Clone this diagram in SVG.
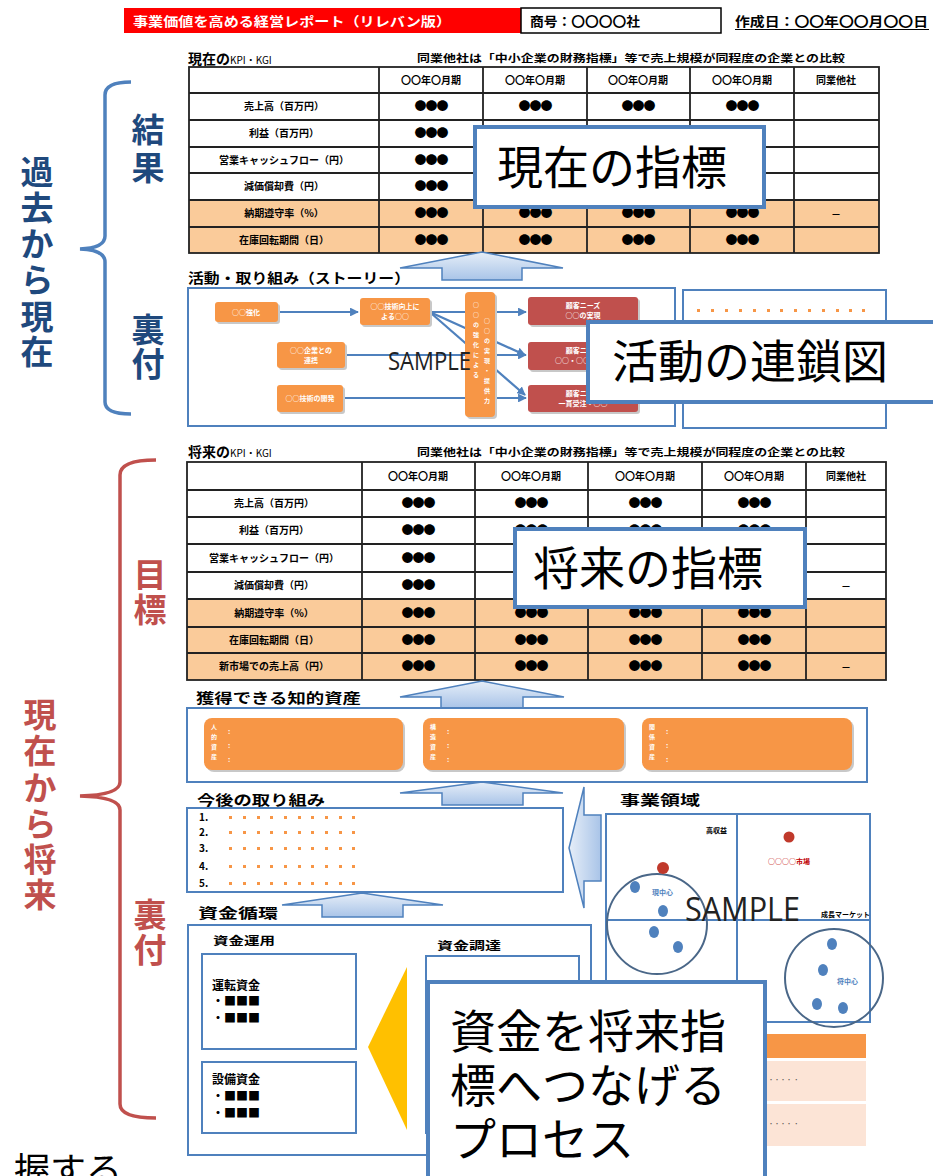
<svg xmlns="http://www.w3.org/2000/svg" width="933" height="1176" viewBox="0 0 933 1176">
<defs>
<style>
text{font-family:"Noto Sans CJK JP","Noto Sans",sans-serif}
.lbl{font-size:14px;font-weight:bold;fill:#000}
.kpi{font-size:10px;fill:#000}
.tl{font-size:10px;font-weight:bold;text-anchor:middle;fill:#000}
.dt{font-size:12px;font-weight:bold;text-anchor:middle;fill:#000;letter-spacing:-1px}
.grid{stroke:#222;stroke-width:1.8;fill:none}
.org{fill:#FACB9A}
.ovr{fill:#fff;stroke:#4F81BD;stroke-width:4}
.ovt{font-size:46px;fill:#000}
.frame{fill:#fff;stroke:#4F81BD;stroke-width:2}
.ob{fill:#F79646}
.rb{fill:#C0504D}
.sh{fill:#C8C8C8}
.wt{fill:#fff;font-size:7px;font-weight:bold;text-anchor:middle}
.vt{fill:#fff;font-size:6px;font-weight:bold;writing-mode:vertical-rl;letter-spacing:4px}
.col{fill:#fff;font-size:7px;font-weight:bold}
.conn{stroke:#4F81BD;stroke-width:2.2;fill:none}
.uarr{fill:url(#ag);stroke:#4F81BD;stroke-width:1.5}
.vb{font-size:33px;font-weight:bold;fill:#1F497D;text-anchor:middle}
.vr{font-size:33px;font-weight:bold;fill:#C0504D;text-anchor:middle}
.od{fill:#F79646}
.bd{fill:#4F81BD}
.samp{font-family:"Open Sans","Liberation Sans",sans-serif;fill:#222}
</style>
<linearGradient id="ag" x1="0" y1="0" x2="0" y2="1"><stop offset="0" stop-color="#E6EEF8"/><stop offset="1" stop-color="#A9C4E8"/></linearGradient>
<linearGradient id="agh" x1="0" y1="0" x2="1" y2="0"><stop offset="0" stop-color="#E6EEF8"/><stop offset="1" stop-color="#A9C4E8"/></linearGradient>
<marker id="ah" viewBox="0 0 10 10" refX="9" refY="5" markerWidth="4" markerHeight="4" orient="auto"><path d="M0,0 L10,5 L0,10 z" fill="#4F81BD"/></marker>
<marker id="ahr" viewBox="0 0 10 10" refX="9" refY="5" markerWidth="4" markerHeight="4" orient="auto"><path d="M0,0 L10,5 L0,10 z" fill="#C00000"/></marker>
</defs>
<rect width="933" height="1176" fill="#fff"/>

<!-- header -->
<g id="header">
<rect x="124" y="8" width="397" height="25" fill="#FF0000"/>
<text x="133" y="26" fill="#fff" font-size="13" font-weight="bold" textLength="318" lengthAdjust="spacingAndGlyphs">事業価値を高める経営レポート（リレバン版）</text>
<rect x="521" y="8" width="200" height="25" fill="#fff" stroke="#000" stroke-width="1.5"/>
<text x="530" y="26" font-size="13" font-weight="bold" textLength="110" lengthAdjust="spacingAndGlyphs">商号：〇〇〇〇社</text>
<text x="735" y="26" font-size="13" font-weight="bold" textLength="193" lengthAdjust="spacingAndGlyphs">作成日：〇〇年〇〇月〇〇日</text>
<line x1="735" y1="29.5" x2="929" y2="29.5" stroke="#000" stroke-width="1.2"/>
</g>

<!-- left brackets and labels -->
<g id="bracket-past">
<path d="M131,82 Q105,82 105,95 L105,236 Q105,248 80,249 Q105,250 105,262 L105,402 Q105,414 131,414" fill="none" stroke="#4F81BD" stroke-width="3.5"/>
<text class="vb" x="37" y="184">過</text><text class="vb" x="37" y="220">去</text><text class="vb" x="37" y="256">か</text><text class="vb" x="37" y="292">ら</text><text class="vb" x="37" y="329">現</text><text class="vb" x="37" y="364">在</text>
<text class="vb" x="148" y="142">結</text><text class="vb" x="148" y="180">果</text>
<text class="vb" x="148" y="342">裏</text><text class="vb" x="148" y="376">付</text>
</g>
<g id="bracket-future">
<path d="M156,460 Q120,460 120,475 L120,782 Q120,795 80,796 Q120,797 120,810 L120,1104 Q120,1118 156,1118" fill="none" stroke="#C0504D" stroke-width="3.5"/>
<text class="vr" x="40" y="727">現</text><text class="vr" x="40" y="763">在</text><text class="vr" x="40" y="800">か</text><text class="vr" x="40" y="836">ら</text><text class="vr" x="40" y="872">将</text><text class="vr" x="40" y="907">来</text>
<text class="vr" x="150" y="587">目</text><text class="vr" x="150" y="622">標</text>
<text class="vr" x="150" y="927">裏</text><text class="vr" x="150" y="962">付</text>
</g>
<text x="14" y="1184" font-size="36" fill="#000">握する</text>

<!-- current KPI table -->
<g id="table-current">
<text x="188" y="64" class="lbl">現在の<tspan class="kpi" font-weight="normal">KPI・KGI</tspan></text>
<text x="417" y="62" font-size="10" font-weight="bold" textLength="428" lengthAdjust="spacingAndGlyphs">同業他社は「中小企業の財務指標」等で売上規模が同程度の企業との比較</text>
<rect x="189" y="200" width="690" height="53" class="org"/>
<rect x="189" y="67" width="690" height="186" class="grid"/>
<path class="grid" d="M189,93H879M189,120H879M189,147H879M189,173H879M189,200H879M189,227H879M379,67V253M483,67V253M587,67V253M690,67V253M794,67V253"/>
<text class="tl" x="431" y="84">〇〇年〇月期</text><text class="tl" x="535" y="84">〇〇年〇月期</text><text class="tl" x="638" y="84">〇〇年〇月期</text><text class="tl" x="742" y="84">〇〇年〇月期</text><text class="tl" x="836" y="84">同業他社</text>
<text class="tl" x="284" y="110">売上高（百万円）</text>
<text class="tl" x="284" y="137">利益（百万円）</text>
<text class="tl" x="284" y="164">営業キャッシュフロー（円）</text>
<text class="tl" x="284" y="190">減価償却費（円）</text>
<text class="tl" x="284" y="217">納期遵守率（%）</text>
<text class="tl" x="284" y="244">在庫回転期間（日）</text>
<g class="dt">
<text x="431" y="111">●●●</text><text x="535" y="111">●●●</text><text x="638" y="111">●●●</text><text x="742" y="111">●●●</text>
<text x="431" y="138">●●●</text>
<text x="431" y="165">●●●</text>
<text x="431" y="191">●●●</text>
<text x="431" y="218">●●●</text><text x="535" y="218">●●●</text><text x="638" y="218">●●●</text><text x="742" y="218">●●●</text>
<text x="431" y="245">●●●</text><text x="535" y="245">●●●</text><text x="638" y="245">●●●</text><text x="742" y="245">●●●</text>
</g>
<text class="tl" x="836" y="218">－</text>
</g>

<!-- activity chain -->
<g id="activity-frame">
<text x="188" y="283" class="lbl" textLength="222" lengthAdjust="spacingAndGlyphs">活動・取り組み（ストーリー）</text>
<rect x="188" y="288" width="487" height="138" class="frame"/>
<rect x="683" y="290" width="203" height="138" class="frame"/>
<g class="od"><rect x="697" y="309" width="3" height="3"/><rect x="711" y="309" width="3" height="3"/><rect x="725" y="309" width="3" height="3"/><rect x="739" y="309" width="3" height="3"/><rect x="753" y="309" width="3" height="3"/><rect x="767" y="309" width="3" height="3"/><rect x="780" y="309" width="3" height="3"/><rect x="794" y="309" width="3" height="3"/><rect x="808" y="309" width="3" height="3"/><rect x="822" y="309" width="3" height="3"/><rect x="836" y="309" width="3" height="3"/><rect x="849" y="309" width="3" height="3"/><rect x="862" y="309" width="3" height="3"/></g>
</g>

<g id="connectors">
<path class="conn" marker-end="url(#ah)" d="M278,312 H358"/>
<path class="conn" marker-end="url(#ah)" d="M430,312 H526"/>
<path class="conn" marker-end="url(#ah)" d="M432,313 L525,355"/>
<path class="conn" marker-end="url(#ah)" d="M432,314 L525,395"/>
<path class="conn" marker-end="url(#ah)" d="M345,355 H526"/>
<path class="conn" marker-end="url(#ah)" d="M343,398 H526"/>
<path d="M663,868 L780,839" stroke="#C00000" stroke-width="2" fill="none" marker-end="url(#ahr)"/>
</g>

<g id="act-a"><rect x="217" y="304" width="63" height="20" rx="3" class="sh"/><rect x="215" y="302" width="63" height="20" rx="3" class="ob"/><text class="wt" x="246" y="315">○○強化</text></g>
<g id="act-b"><rect x="362" y="300" width="70" height="27" rx="3" class="sh"/><rect x="360" y="298" width="70" height="27" rx="3" class="ob"/><text class="wt" x="395" y="309">○○技術向上に</text><text class="wt" x="395" y="319">よる○○</text></g>
<g id="act-c"><rect x="279" y="344" width="68" height="26" rx="3" class="sh"/><rect x="277" y="342" width="68" height="26" rx="3" class="ob"/><text class="wt" x="311" y="353">○○企業との</text><text class="wt" x="311" y="363">連携</text></g>
<g id="act-d"><rect x="279" y="387" width="66" height="27" rx="3" class="sh"/><rect x="277" y="385" width="66" height="27" rx="3" class="ob"/><text class="wt" x="310" y="401">○○技術の開発</text></g>
<g id="act-e"><rect x="467" y="294" width="30" height="125" rx="4" class="sh"/><rect x="465" y="292" width="30" height="125" rx="4" class="ob"/>
<text class="vt" x="487" y="318">○○の実現・提供力</text>
<text class="vt" x="476" y="302">○○の強化による</text></g>
<g id="act-f"><rect x="530" y="299" width="110" height="28" rx="3" class="sh"/><rect x="528" y="297" width="110" height="28" rx="3" class="rb"/><text class="wt" x="583" y="308">顧客ニーズ</text><text class="wt" x="583" y="318">○○の実現</text></g>
<g id="act-g"><rect x="530" y="344" width="110" height="28" rx="3" class="sh"/><rect x="528" y="342" width="110" height="28" rx="3" class="rb"/><text class="wt" x="583" y="353">顧客ニーズ</text><text class="wt" x="583" y="363">○○・○○の○○</text></g>
<g id="act-h"><rect x="530" y="387" width="110" height="27" rx="3" class="sh"/><rect x="528" y="385" width="110" height="27" rx="3" class="rb"/><text class="wt" x="583" y="396">顧客ニーズ</text><text class="wt" x="583" y="406">一貫受注・○○</text></g>
<text class="samp" x="388" y="370" font-size="26" textLength="83" lengthAdjust="spacingAndGlyphs">SAMPLE</text>

<!-- arrows -->
<g id="arrow-1"><path class="uarr" d="M482,252 L563,268 L522,268 L522,280 L442,280 L442,268 L400,268 Z"/></g>

<!-- future KPI table -->
<g id="table-future">
<text x="188" y="457" class="lbl">将来の<tspan class="kpi" font-weight="normal">KPI・KGI</tspan></text>
<text x="417" y="456" font-size="10" font-weight="bold" textLength="428" lengthAdjust="spacingAndGlyphs">同業他社は「中小企業の財務指標」等で売上規模が同程度の企業との比較</text>
<rect x="187" y="599" width="699" height="81" class="org"/>
<rect x="187" y="462" width="699" height="218" class="grid"/>
<path class="grid" d="M187,490H886M187,517H886M187,544H886M187,572H886M187,599H886M187,627H886M187,653H886M362,462V680M475,462V680M588,462V680M702,462V680M806,462V680"/>
<text class="tl" x="418" y="480">〇〇年〇月期</text><text class="tl" x="531" y="480">〇〇年〇月期</text><text class="tl" x="645" y="480">〇〇年〇月期</text><text class="tl" x="754" y="480">〇〇年〇月期</text><text class="tl" x="846" y="480">同業他社</text>
<text class="tl" x="274" y="507">売上高（百万円）</text>
<text class="tl" x="274" y="534">利益（百万円）</text>
<text class="tl" x="274" y="562">営業キャッシュフロー（円）</text>
<text class="tl" x="274" y="589">減価償却費（円）</text>
<text class="tl" x="274" y="617">納期遵守率（%）</text>
<text class="tl" x="274" y="644">在庫回転期間（日）</text>
<text class="tl" x="274" y="670">新市場での売上高（円）</text>
<g class="dt">
<text x="418" y="508">●●●</text><text x="531" y="508">●●●</text><text x="645" y="508">●●●</text><text x="754" y="508">●●●</text>
<text x="418" y="535">●●●</text><text x="531" y="535">●●●</text><text x="645" y="535">●●●</text><text x="754" y="535">●●●</text>
<text x="418" y="563">●●●</text><text x="531" y="563">●●●</text>
<text x="418" y="590">●●●</text><text x="531" y="590">●●●</text>
<text x="418" y="618">●●●</text><text x="531" y="618">●●●</text><text x="645" y="618">●●●</text><text x="754" y="618">●●●</text>
<text x="418" y="645">●●●</text><text x="531" y="645">●●●</text><text x="645" y="645">●●●</text><text x="754" y="645">●●●</text>
<text x="418" y="671">●●●</text><text x="531" y="671">●●●</text><text x="645" y="671">●●●</text><text x="754" y="671">●●●</text>
</g>
<text class="tl" x="846" y="590">－</text><text class="tl" x="846" y="671">－</text>
</g>

<g id="arrow-2"><path class="uarr" d="M482,681 L564,697 L523,697 L523,708 L441,708 L441,697 L400,697 Z"/></g>

<!-- knowledge assets -->
<g id="knowledge">
<text x="196" y="703" class="lbl" textLength="165" lengthAdjust="spacingAndGlyphs">獲得できる知的資産</text>
<rect x="187" y="708" width="680" height="74" class="frame"/>
<rect x="206" y="720" width="199" height="52" rx="8" class="sh"/><rect x="204" y="718" width="199" height="52" rx="8" class="ob"/>
<rect x="425" y="720" width="201" height="52" rx="8" class="sh"/><rect x="423" y="718" width="201" height="52" rx="8" class="ob"/>
<rect x="644" y="720" width="210" height="52" rx="8" class="sh"/><rect x="642" y="718" width="210" height="52" rx="8" class="ob"/>
<text class="vt" x="214" y="724">人的資産</text>
<text class="vt" x="433" y="724">構造資産</text>
<text class="vt" x="652" y="724">関係資産</text>
<text class="col" x="228" y="734">:</text><text class="col" x="228" y="748">:</text><text class="col" x="228" y="762">:</text>
<text class="col" x="447" y="734">:</text><text class="col" x="447" y="748">:</text><text class="col" x="447" y="762">:</text>
<text class="col" x="666" y="734">:</text><text class="col" x="666" y="748">:</text><text class="col" x="666" y="762">:</text>
</g>

<g id="arrow-3"><path class="uarr" d="M482,782 L563,793 L523,793 L523,805 L442,805 L442,793 L400,793 Z"/></g>

<!-- future efforts -->
<g id="future-efforts">
<text x="197" y="805" class="lbl" textLength="128" lengthAdjust="spacingAndGlyphs">今後の取り組み</text>
<rect x="187" y="808" width="376" height="84" class="frame"/>
<g font-size="10" font-weight="bold"><text x="199" y="821">1.</text><text x="199" y="836">2.</text><text x="199" y="852">3.</text><text x="199" y="870">4.</text><text x="199" y="887">5.</text></g>
<g class="od">
<rect x="229" y="816" width="3" height="3"/><rect x="243" y="816" width="3" height="3"/><rect x="257" y="816" width="3" height="3"/><rect x="270" y="816" width="3" height="3"/><rect x="284" y="816" width="3" height="3"/><rect x="298" y="816" width="3" height="3"/><rect x="311" y="816" width="3" height="3"/><rect x="325" y="816" width="3" height="3"/><rect x="339" y="816" width="3" height="3"/><rect x="352" y="816" width="3" height="3"/>
<rect x="229" y="831" width="3" height="3"/><rect x="243" y="831" width="3" height="3"/><rect x="257" y="831" width="3" height="3"/><rect x="270" y="831" width="3" height="3"/><rect x="284" y="831" width="3" height="3"/><rect x="298" y="831" width="3" height="3"/><rect x="311" y="831" width="3" height="3"/><rect x="325" y="831" width="3" height="3"/><rect x="339" y="831" width="3" height="3"/><rect x="352" y="831" width="3" height="3"/>
<rect x="229" y="847" width="3" height="3"/><rect x="243" y="847" width="3" height="3"/><rect x="257" y="847" width="3" height="3"/><rect x="270" y="847" width="3" height="3"/><rect x="284" y="847" width="3" height="3"/><rect x="298" y="847" width="3" height="3"/><rect x="311" y="847" width="3" height="3"/><rect x="325" y="847" width="3" height="3"/><rect x="339" y="847" width="3" height="3"/><rect x="352" y="847" width="3" height="3"/>
<rect x="229" y="865" width="3" height="3"/><rect x="243" y="865" width="3" height="3"/><rect x="257" y="865" width="3" height="3"/><rect x="270" y="865" width="3" height="3"/><rect x="284" y="865" width="3" height="3"/><rect x="298" y="865" width="3" height="3"/><rect x="311" y="865" width="3" height="3"/><rect x="325" y="865" width="3" height="3"/><rect x="339" y="865" width="3" height="3"/><rect x="352" y="865" width="3" height="3"/>
<rect x="229" y="882" width="3" height="3"/><rect x="243" y="882" width="3" height="3"/><rect x="257" y="882" width="3" height="3"/><rect x="270" y="882" width="3" height="3"/><rect x="284" y="882" width="3" height="3"/><rect x="298" y="882" width="3" height="3"/><rect x="311" y="882" width="3" height="3"/><rect x="325" y="882" width="3" height="3"/><rect x="339" y="882" width="3" height="3"/><rect x="352" y="882" width="3" height="3"/>
</g>
</g>

<g id="arrow-left"><path d="M569,848 L584,787 L584,815 L601,815 L601,881 L584,881 L584,908 Z" fill="url(#agh)" stroke="#4F81BD" stroke-width="1.5"/></g>

<!-- business domain -->
<g id="business">
<text x="620" y="805" class="lbl" textLength="80" lengthAdjust="spacingAndGlyphs">事業領域</text>
<rect x="606" y="814" width="264" height="208" class="frame"/>
<path d="M737,814 V1022 M606,920 H870" stroke="#4F81BD" stroke-width="2"/>
<circle cx="657" cy="924" r="50" fill="none" stroke="#4A6788" stroke-width="2"/>
<circle cx="834" cy="978" r="49" fill="none" stroke="#4A6788" stroke-width="2"/>
<g class="bd">
<ellipse cx="635" cy="887" rx="5" ry="6"/><ellipse cx="663" cy="911" rx="5" ry="6"/><ellipse cx="654" cy="932" rx="5" ry="6"/><ellipse cx="678" cy="947" rx="5" ry="6"/>
<ellipse cx="832" cy="944" rx="5" ry="6"/><ellipse cx="823" cy="970" rx="5" ry="6"/><ellipse cx="817" cy="1004" rx="5" ry="6"/><ellipse cx="843" cy="1008" rx="5" ry="6"/>
</g>
<circle cx="663" cy="868" r="6" fill="#C0392B"/>
<circle cx="789" cy="837" r="5.5" fill="#C0392B"/>
<text x="706" y="833" font-size="7" font-weight="bold">高収益</text>
<text x="768" y="864" font-size="7" font-weight="bold" fill="#C00000">○○○○市場</text>
<text x="821" y="917" font-size="7" font-weight="bold">成長マーケット</text>
<text x="652" y="895" font-size="7" font-weight="bold" fill="#4F81BD">現中心</text>
<text x="837" y="984" font-size="7" font-weight="bold" fill="#4F81BD">将中心</text>
<text class="samp" x="685" y="921" font-size="32" textLength="115" lengthAdjust="spacingAndGlyphs">SAMPLE</text>
</g>

<g id="arrow-4"><path class="uarr" d="M362,893 L443,905 L403,905 L403,917 L322,917 L322,905 L282,905 Z"/></g>

<!-- funding -->
<g id="funding">
<text x="198" y="918" class="lbl" textLength="80" lengthAdjust="spacingAndGlyphs">資金循環</text>
<rect x="188" y="925" width="403" height="230" class="frame"/>
<text x="213" y="945" font-size="11" font-weight="bold" textLength="62" lengthAdjust="spacingAndGlyphs">資金運用</text>
<text x="437" y="950" font-size="11" font-weight="bold" textLength="64" lengthAdjust="spacingAndGlyphs">資金調達</text>
<rect x="202" y="954" width="154" height="95" class="frame"/>
<rect x="202" y="1062" width="154" height="71" class="frame"/>
<rect x="426" y="956" width="153" height="177" class="frame"/>
<text x="212" y="990" font-size="12" font-weight="bold">運転資金</text>
<text x="212" y="1006" font-size="12" font-weight="bold">・■■■</text>
<text x="212" y="1023" font-size="12" font-weight="bold">・■■■</text>
<text x="212" y="1084" font-size="12" font-weight="bold">設備資金</text>
<text x="212" y="1101" font-size="12" font-weight="bold">・■■■</text>
<text x="212" y="1118" font-size="12" font-weight="bold">・■■■</text>
<path d="M368,1047 L407,967 L407,1130 Z" fill="#FFC000"/>
</g>

<g id="small-table">
<rect x="757" y="1034" width="109" height="24" fill="#F79646"/>
<rect x="757" y="1061" width="109" height="40" fill="#FCE4D6"/>
<rect x="757" y="1104" width="109" height="42" fill="#FCE4D6"/>
<text x="768" y="1082" font-size="6" fill="#555">・・・・ ・</text>
<text x="768" y="1126" font-size="6" fill="#555">・・・・ ・</text>
</g>

<!-- overlay callouts -->
<g id="callout-current"><rect x="475" y="127" width="289" height="80" class="ovr"/><text x="497" y="184" class="ovt">現在の指標</text></g>
<g id="callout-chain"><rect x="588" y="322" width="352" height="80" class="ovr"/><text x="612" y="378" class="ovt">活動の連鎖図</text></g>
<g id="callout-future"><rect x="515" y="529" width="290" height="78" class="ovr"/><text x="533" y="585" class="ovt">将来の指標</text></g>
<g id="callout-funding"><rect x="428" y="982" width="337" height="200" class="ovr"/>
<text x="450" y="1048" class="ovt">資金を将来指</text>
<text x="450" y="1102" class="ovt">標へつなげる</text>
<text x="450" y="1156" class="ovt">プロセス</text></g>
</svg>
